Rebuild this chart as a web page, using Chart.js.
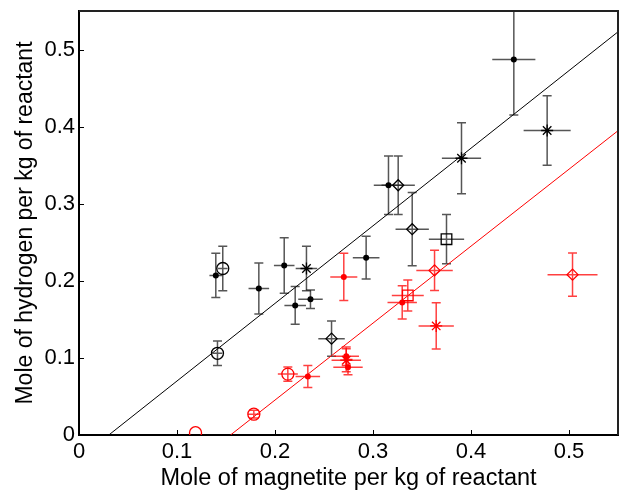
<!DOCTYPE html>
<html>
<head>
<meta charset="utf-8">
<script src="https://cdn.jsdelivr.net/npm/chart.js@4"></script>
<style>
    html, body { margin: 0; padding: 0; background: #fff; }
    #chart-wrap { width: 621px; height: 490px; }
</style>
</head>
<body>
<div id="chart-wrap"><canvas id="h2-chart" width="621" height="490"></canvas></div>
<script>
// axis ticks
const xTicks = [0, 0.1, 0.2, 0.3, 0.4, 0.5];
const yTicks = [0, 0.1, 0.2, 0.3, 0.4, 0.5];

// black series
const blackX    = [0.4437, 0.4777, 0.3903, 0.3158, 0.3257, 0.340, 0.375, 0.1396, 0.1467, 0.1835, 0.2094, 0.2321, 0.2206, 0.2362, 0.1413, 0.2577, 0.293];
const blackY    = [0.487, 0.395, 0.359, 0.324, 0.324, 0.267, 0.254, 0.207, 0.216, 0.190, 0.220, 0.216, 0.168, 0.176, 0.106, 0.125, 0.230];
const blackXErr = [0.022, 0.024, 0.020, 0.015, 0.017, 0.017, 0.018, 0.0065, 0.005, 0.0105, 0.0105, 0.011, 0.011, 0.0125, 0.005, 0.0135, 0.0136];
const blackYErr = [0.072, 0.045, 0.046, 0.038, 0.038, 0.0475, 0.032, 0.0286, 0.029, 0.033, 0.036, 0.029, 0.0245, 0.012, 0.016, 0.0228, 0.0277];
const blackMark = ['dot', 'star', 'star', 'dot', 'diamond', 'diamond', 'square', 'dot', 'circle', 'dot', 'dot', 'star', 'dot', 'dot', 'circle', 'diamond', 'dot'];

// red series
const redX    = [0.2702, 0.3628, 0.3355, 0.3298, 0.3645, 0.5036, 0.2727, 0.2727, 0.2745, 0.2335, 0.2131, 0.1784, 0.1189];
const redY    = [0.205, 0.2135, 0.181, 0.172, 0.1415, 0.208, 0.102, 0.097, 0.088, 0.076, 0.079, 0.027, 0.003];
const redXErr = [0.0138, 0.0186, 0.0163, 0.015, 0.018, 0.0255, 0.013, 0.015, 0.015, 0.0125, 0.0102, 0.006, 0];
const redYErr = [0.0306, 0.026, 0.02, 0.0215, 0.03, 0.028, 0.012, 0.015, 0.01, 0.0143, 0.0093, 0.005, 0];
const redMark = ['dot', 'diamond', 'square', 'dot', 'star', 'diamond', 'dot', 'star', 'dot', 'dot', 'circle', 'circle', 'circle'];

// fitted lines (end points)
const blackFitX = [0.0304, 0.55];
const blackFitY = [0, 0.523];
const redFitX = [0.1546, 0.55];
const redFitY = [0, 0.3947];

const markStyle = { dot: 'circle', circle: 'circle', diamond: 'rectRot', square: 'rect', star: 'star' };
const markRadius = { dot: 3, circle: 6, diamond: 5.5, square: 7.5, star: 6 };

function toPoints(xs, ys) {
    return xs.map((x, i) => ({ x: x, y: ys[i] }));
}

function pointDataset(xs, ys, marks, color) {
    return {
        type: 'scatter',
        data: toPoints(xs, ys),
        pointStyle: marks.map(m => markStyle[m]),
        pointRadius: marks.map(m => markRadius[m]),
        pointHoverRadius: marks.map(m => markRadius[m]),
        backgroundColor: marks.map(m => m === 'dot' ? color : 'rgba(0,0,0,0)'),
        borderColor: color,
        pointBorderWidth: marks.map(m => m === 'dot' ? 0 : 1.3),
        showLine: false
    };
}

function lineDataset(xs, ys, color) {
    return {
        type: 'line',
        data: toPoints(xs, ys),
        borderColor: color,
        borderWidth: 1,
        pointRadius: 0,
        showLine: true,
        fill: false
    };
}

// error bars, frame and inward tick marks
const errorBarPlugin = {
    id: 'errorBars',
    beforeDatasetsDraw(chart) {
        const ctx = chart.ctx;
        const xs = chart.scales.x, ys = chart.scales.y;
        const area = chart.chartArea;
        const sets = [
            [blackX, blackY, blackXErr, blackYErr, 'rgba(30,30,30,0.75)'],
            [redX, redY, redXErr, redYErr, 'rgba(255,0,0,0.75)']
        ];
        const cap = 4.5;
        ctx.save();
        ctx.beginPath();
        ctx.rect(area.left, area.top, area.right - area.left, area.bottom - area.top);
        ctx.clip();
        ctx.lineWidth = 1.5;
        sets.forEach(([X, Y, XE, YE, color]) => {
            ctx.strokeStyle = color;
            X.forEach((x, i) => {
                const px = xs.getPixelForValue(x);
                const py = ys.getPixelForValue(Y[i]);
                ctx.beginPath();
                if (YE[i] > 0) {
                    const y1 = ys.getPixelForValue(Y[i] + YE[i]);
                    const y2 = ys.getPixelForValue(Y[i] - YE[i]);
                    ctx.moveTo(px, y1); ctx.lineTo(px, y2);
                    ctx.moveTo(px - cap, y1); ctx.lineTo(px + cap, y1);
                    ctx.moveTo(px - cap, y2); ctx.lineTo(px + cap, y2);
                }
                if (XE[i] > 0) {
                    ctx.moveTo(xs.getPixelForValue(x - XE[i]), py);
                    ctx.lineTo(xs.getPixelForValue(x + XE[i]), py);
                }
                ctx.stroke();
            });
        });
        ctx.restore();
    },
    afterDraw(chart) {
        const ctx = chart.ctx;
        const area = chart.chartArea;
        ctx.save();
        ctx.strokeStyle = '#222';
        ctx.lineWidth = 2;
        ctx.beginPath();
        ctx.moveTo(area.left, area.top);
        ctx.lineTo(area.right, area.top);
        ctx.lineTo(area.right, area.bottom);
        ctx.stroke();

        ctx.lineWidth = 1;
        ctx.strokeStyle = '#000';
        ctx.beginPath();
        xTicks.forEach(v => {
            const px = Math.round(chart.scales.x.getPixelForValue(v)) + 0.5;
            ctx.moveTo(px, area.bottom);
            ctx.lineTo(px, area.bottom - 5);
        });
        yTicks.forEach(v => {
            const py = Math.round(chart.scales.y.getPixelForValue(v)) + 0.5;
            ctx.moveTo(area.left, py);
            ctx.lineTo(area.left + 5, py);
        });
        ctx.stroke();
        ctx.restore();
    }
};

// keep the plot box fixed: no extra room for tick labels
function fixBox(scale, size) {
    if (scale.isHorizontal()) scale.height = size;
    else scale.width = size;
    scale.paddingTop = 0;
    scale.paddingBottom = 0;
    scale.paddingLeft = 0;
    scale.paddingRight = 0;
}

const fontFamily = '"Liberation Sans", Arial, sans-serif';

const ctx = document.getElementById('h2-chart').getContext('2d');
const chart = new Chart(ctx, {
    type: 'scatter',
    data: {
        datasets: [
            lineDataset(blackFitX, blackFitY, '#000'),
            lineDataset(redFitX, redFitY, '#ff0000'),
            pointDataset(blackX, blackY, blackMark, '#000'),
            pointDataset(redX, redY, redMark, '#ff0000')
        ]
    },
    options: {
        responsive: false,
        animation: false,
        events: [],
        layout: { autoPadding: false, padding: { top: 11, right: 3, left: 0, bottom: 0 } },
        plugins: {
            legend: { display: false },
            tooltip: { enabled: false }
        },
        scales: {
            x: {
                type: 'linear',
                min: 0,
                max: 0.55,
                grid: { display: false, drawTicks: false, tickLength: 0 },
                border: { display: true, color: '#000', width: 2 },
                afterBuildTicks: scale => { scale.ticks = xTicks.map(v => ({ value: v })); },
                afterFit: scale => fixBox(scale, 55),
                ticks: {
                    color: '#000',
                    padding: 4,
                    maxRotation: 0,
                    font: { family: fontFamily, size: 22 }
                },
                title: {
                    display: true,
                    text: 'Mole of magnetite per kg of reactant',
                    color: '#000',
                    padding: { top: 0, bottom: 0 },
                    font: { family: fontFamily, size: 23.5, lineHeight: 1.0 }
                }
            },
            y: {
                type: 'linear',
                min: 0,
                max: 0.55,
                grid: { display: false, drawTicks: false, tickLength: 0 },
                border: { display: true, color: '#000', width: 2 },
                afterBuildTicks: scale => { scale.ticks = yTicks.map(v => ({ value: v })); },
                afterFit: scale => fixBox(scale, 79),
                ticks: {
                    color: '#000',
                    padding: 4,
                    font: { family: fontFamily, size: 22 }
                },
                title: {
                    display: true,
                    text: 'Mole of hydrogen per kg of reactant',
                    color: '#000',
                    padding: { top: 11.5, bottom: 0 },
                    font: { family: fontFamily, size: 23 }
                }
            }
        }
    },
    plugins: [errorBarPlugin]
});
</script>
</body>
</html>
